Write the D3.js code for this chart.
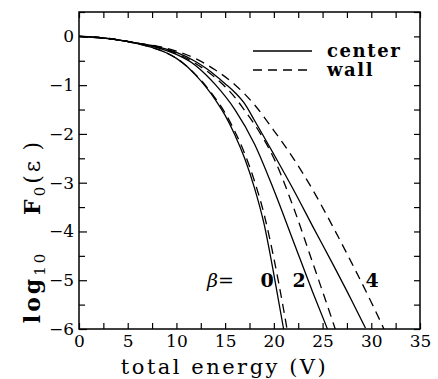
<!doctype html>
<html>
<head>
<meta charset="utf-8">
<script src="https://d3js.org/d3.v7.min.js"></script>
<style>
  body { margin: 0; background: #fff; }
  svg text { font-family: "DejaVu Serif", "Liberation Serif", serif; fill: #000; }
</style>
</head>
<body>
<svg id="chart" width="438" height="379"></svg>
<script>
// curves: total energy (V) vs log10 F0
var beta = [0, 2, 4];

var center0E = [0, 2, 4, 6, 7, 8, 9, 10, 11, 12, 13, 14, 15, 16, 17, 18, 19, 20, 21];
var center0L = [0, -0.03, -0.07, -0.15, -0.2, -0.26, -0.34, -0.45, -0.6, -0.8, -1.03, -1.3, -1.62, -2.02, -2.5, -3.1, -3.85, -4.88, -6.0];
var wall0E   = [0, 2, 4, 6, 7, 8, 9, 10, 11, 12, 13, 14, 15, 16, 17, 18, 19, 20, 21, 21.35];
var wall0L   = [0, -0.03, -0.07, -0.15, -0.2, -0.26, -0.34, -0.45, -0.6, -0.79, -1.01, -1.27, -1.57, -1.95, -2.4, -2.96, -3.65, -4.55, -5.6, -6.0];

var center2E = [0, 2, 4, 6, 8, 10, 12, 13, 14, 16, 18, 20, 22, 24, 25.5];
var center2L = [0, -0.02, -0.07, -0.14, -0.23, -0.37, -0.6, -0.78, -0.99, -1.5, -2.2, -3.15, -4.2, -5.25, -6.0];
var wall2E   = [0, 2, 4, 6, 8, 10, 12, 14, 16, 17, 18, 20, 22, 24, 26, 26.3];
var wall2L   = [0, -0.02, -0.07, -0.14, -0.22, -0.35, -0.56, -0.85, -1.25, -1.52, -1.8, -2.5, -3.5, -4.65, -5.82, -6.0];

var center4E = [0, 2, 4, 6, 8, 10, 12, 13, 14, 15, 16, 17, 18, 20, 22, 24, 26, 28, 29.4];
var center4L = [0, -0.02, -0.07, -0.14, -0.21, -0.33, -0.52, -0.65, -0.8, -0.97, -1.15, -1.38, -1.72, -2.42, -3.14, -3.9, -4.65, -5.42, -5.98];
var wall4E   = [0, 2, 4, 6, 8, 10, 12, 14, 16, 18, 20, 22, 24, 26, 28, 30, 31.3];
var wall4L   = [0, -0.02, -0.07, -0.14, -0.2, -0.3, -0.46, -0.69, -0.99, -1.4, -1.93, -2.5, -3.15, -3.88, -4.65, -5.45, -6.0];

var xTicks = d3.range(0, 35.01, 2.5);
var yTicks = d3.range(-6, 0.51, 0.5);

function draw() {
  var svg = d3.select("#chart");
  var pLeft = 79, pRight = 420, pTop = 12, pBottom = 329;

  var x = d3.scaleLinear().domain([0, 35]).range([pLeft, pRight]);
  var y = d3.scaleLinear().domain([-6, 0.5]).range([pBottom, pTop]);

  function fmt(d) { return d < 0 ? "\u2212" + Math.abs(d) : String(d); }

  // axes, ticks pointing inward on all four sides
  var xb = svg.append("g").attr("transform", "translate(0," + pBottom + ")")
    .call(d3.axisBottom(x).tickValues(xTicks).tickSize(-6).tickPadding(6)
      .tickFormat(function(d){ return d % 5 === 0 ? d : ""; }));
  svg.append("g").attr("transform", "translate(0," + pTop + ")")
    .call(d3.axisTop(x).tickValues(xTicks).tickSize(-6).tickFormat(""));
  var yl = svg.append("g").attr("transform", "translate(" + pLeft + ",0)")
    .call(d3.axisLeft(y).tickValues(yTicks).tickSize(-6).tickPadding(5)
      .tickFormat(function(d){ return Number.isInteger(d) ? fmt(d) : ""; }));
  svg.append("g").attr("transform", "translate(" + pRight + ",0)")
    .call(d3.axisRight(y).tickValues(yTicks).tickSize(-6).tickFormat(""));

  yl.selectAll(".tick line").attr("x2", function(d){ return Number.isInteger(d) ? 8 : 6; });

  svg.selectAll(".domain").remove();
  svg.selectAll(".tick line").attr("stroke", "#000").attr("stroke-width", 1.2);
  svg.selectAll(".tick text").style("font-size", "17px");
  xb.selectAll(".tick text").attr("dy", "0.72em");

  svg.append("rect")
    .attr("x", pLeft).attr("y", pTop)
    .attr("width", pRight - pLeft).attr("height", pBottom - pTop)
    .attr("fill", "none").attr("stroke", "#000").attr("stroke-width", 1.5);

  // curves
  var series = [
    { e: center0E, l: center0L, dash: null },
    { e: wall0E, l: wall0L, dash: "9,6" },
    { e: center2E, l: center2L, dash: null },
    { e: wall2E, l: wall2L, dash: "9,6" },
    { e: center4E, l: center4L, dash: null },
    { e: wall4E, l: wall4L, dash: "9,6" }
  ];

  var line = d3.line()
    .x(function(d){ return x(d[0]); })
    .y(function(d){ return y(d[1]); })
    .curve(d3.curveMonotoneX);

  svg.append("g").selectAll("path")
    .data(series)
    .enter().append("path")
      .attr("d", function(s){ return line(d3.zip(s.e, s.l)); })
      .attr("fill", "none")
      .attr("stroke", "#000")
      .attr("stroke-width", 1.3)
      .attr("stroke-dasharray", function(s){ return s.dash; });

  // legend
  var lg = svg.append("g");
  lg.append("line").attr("x1", 253).attr("x2", 312).attr("y1", 51).attr("y2", 51)
    .attr("stroke", "#000").attr("stroke-width", 1.3);
  lg.append("line").attr("x1", 253).attr("x2", 312).attr("y1", 70).attr("y2", 70)
    .attr("stroke", "#000").attr("stroke-width", 1.3).attr("stroke-dasharray", "9,6");
  lg.append("text").attr("x", 327).attr("y", 57).text("center")
    .style("font-size", "18px").style("letter-spacing", "1.6px").style("font-weight", "bold");
  lg.append("text").attr("x", 327).attr("y", 76).text("wall")
    .style("font-size", "18px").style("letter-spacing", "1.6px").style("font-weight", "bold");

  // beta labels
  svg.append("text").attr("x", 207).attr("y", 287)
    .style("font-size", "19px")
    .html('<tspan font-style="italic">\u03b2</tspan>=');
  svg.selectAll(".blab")
    .data(beta)
    .enter().append("text")
      .attr("class", "blab")
      .attr("x", function(d, i){ return [267, 299, 372][i]; })
      .attr("y", 287)
      .attr("text-anchor", "middle")
      .style("font-size", "19px")
      .style("font-weight", "bold")
      .text(function(d){ return d; });

  // axis titles
  svg.append("text")
    .attr("x", (pLeft + pRight) / 2 - 25).attr("y", 374)
    .attr("text-anchor", "middle")
    .style("font-size", "21px").style("letter-spacing", "2.5px")
    .text("total energy (V)");

  var yt = svg.append("text")
    .attr("transform", "translate(40,231) rotate(-90)")
    .attr("text-anchor", "middle")
    .style("font-size", "22px").style("letter-spacing", "3px").style("font-weight", "bold");
  yt.append("tspan").text("log");
  yt.append("tspan").attr("dy", 5).style("font-size", "15px").style("font-weight", "normal").text("10");
  yt.append("tspan").attr("dy", -5).text("\u2003 F");
  yt.append("tspan").attr("dy", 5).style("font-size", "15px").style("font-weight", "normal").text("0");
  yt.append("tspan").attr("dy", -5).style("font-weight", "normal").text("(\u03b5\u2009)");
}

draw();
</script>
</body>
</html>
